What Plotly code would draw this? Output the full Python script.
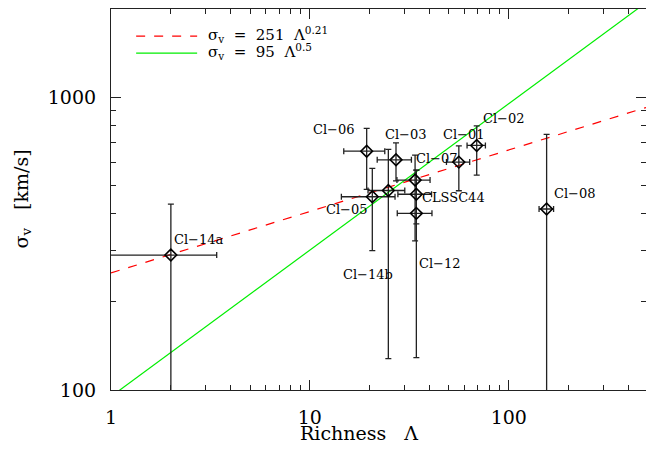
import math
import plotly.graph_objects as go

# ---- data ----
names = ["Cl-14a", "Cl-06", "Cl-03", "Cl-14b", "Cl-05", "Cl-07", "CLSSC44", "Cl-12", "Cl-01", "Cl-02", "Cl-08"]
richness = [2.0, 19.3, 27.1, 24.8, 20.6, 33.8, 34.3, 34.3, 56.1, 69.0, 155.0]
richness_err = [1.4, 4.5, 5.3, 5.2, 6.2, 6.4, 6.6, 6.8, 7.5, 7.3, 13.0]
sigma = [289, 654, 611, 480, 457, 521, 466, 401, 600, 684, 415]
sigma_err_plus = [142, 128, 87, 183, 114, 113, 97, 162, 82, 114, 331]
sigma_err_minus = [239, 170, 93, 352, 158, 198, 97, 272, 121, 142, 331]

NB = "\u00a0"
fit_names = [f"σ<sub>v</sub>{NB}{NB}={NB}{NB}251{NB}{NB}Λ<sup>0.21</sup>",
             f"σ<sub>v</sub>{NB}{NB}={NB}{NB}95{NB}{NB}Λ<sup>0.5</sup>"]
fit_amp = [251, 95]
fit_exp = [0.21, 0.5]
fit_lambda = [1, 500]

x_ticks = [1, 10, 100]
y_ticks = [100, 1000]
x_minor = [2, 3, 4, 5, 6, 7, 8, 9, 20, 30, 40, 50, 60, 70, 80, 90, 200, 300, 400]
y_minor = [200, 300, 400, 500, 600, 700, 800, 900, 2000]

# ---- style ----
FONT = "DejaVu Serif"
fit_colors = ["#ff0000", "#00ee00"]
fit_dash = ["dash", "solid"]
# label offsets (px) relative to each point: (dx, dy up)
label_offsets = [(28, 16), (-33, 22), (10, 25), (-20, -84), (-25, -13), (22, 22),
                 (37, -3), (24, -50), (5, 28), (27, 27), (28, 16)]

fig = go.Figure()

for i in range(2):
    fig.add_trace(go.Scatter(
        x=fit_lambda, y=[fit_amp[i] * l ** fit_exp[i] for l in fit_lambda],
        mode="lines", line=dict(color=fit_colors[i], width=1.2, dash=fit_dash[i]),
        showlegend=False, hoverinfo="skip"))

fig.add_trace(go.Scatter(
    x=richness, y=sigma, mode="markers",
    marker=dict(symbol="diamond-open", size=9, color="black", line=dict(width=1.6, color="black")),
    error_x=dict(type="data", array=richness_err, color="#222", thickness=1.3, width=3),
    error_y=dict(type="data", symmetric=False, array=sigma_err_plus, arrayminus=sigma_err_minus,
                 color="#222", thickness=1.3, width=3),
    showlegend=False))

annotations = []
for n, xv, yv, (dx, dy) in zip(names, richness, sigma, label_offsets):
    annotations.append(dict(x=math.log10(xv), y=math.log10(yv),
                            xref="x", yref="y", text=n.replace("-", "−"), showarrow=False,
                            xshift=dx, yshift=dy, font=dict(family=FONT, size=13, color="black")))

# legend (manual)
leg_y = [0.929, 0.884]
shapes = []
for i in range(2):
    shapes.append(dict(type="line", xref="paper", yref="paper", x0=0.047, x1=0.161,
                       y0=leg_y[i], y1=leg_y[i],
                       line=dict(color=fit_colors[i], width=1.2, dash=fit_dash[i])))
    annotations.append(dict(xref="paper", yref="paper", x=0.178, y=leg_y[i], xanchor="left",
                            yanchor="middle", yshift=2, text=fit_names[i], showarrow=False,
                            font=dict(family=FONT, size=15, color="black")))

# axis titles
annotations.append(dict(xref="paper", yref="paper", x=0.5, y=0, xshift=-20, yshift=-43,
                        yanchor="middle", text="Richness   Λ", showarrow=False,
                        font=dict(family=FONT, size=19, color="black")))
annotations.append(dict(xref="paper", yref="paper", x=0, y=0.5, xshift=-89, textangle=-90,
                        xanchor="center", text="σ<sub>v</sub>   [km/s]", showarrow=False,
                        font=dict(family=FONT, size=19, color="black")))

axis_common = dict(type="log", showgrid=False, zeroline=False, showline=True, linecolor="#222",
                   linewidth=1.2, mirror="ticks", ticks="inside", ticklen=10, tickwidth=1.2,
                   tickcolor="#222", tickfont=dict(family=FONT, size=19, color="black"))

fig.update_layout(
    width=646, height=452,
    margin=dict(l=111, r=0, t=9, b=62),
    paper_bgcolor="white", plot_bgcolor="white",
    xaxis=dict(range=[0, 2.690], tickvals=x_ticks, ticktext=[str(v) for v in x_ticks],
               minor=dict(tickvals=x_minor, ticks="inside", ticklen=5, tickwidth=1.2, tickcolor="#222"),
               ticklabelstandoff=10, **axis_common),
    yaxis=dict(range=[2, 3.30103], tickvals=y_ticks, ticktext=[str(v) for v in y_ticks],
               minor=dict(tickvals=y_minor, ticks="inside", ticklen=5, tickwidth=1.2, tickcolor="#222"),
               ticklabelstandoff=10, **axis_common),
    shapes=shapes, annotations=annotations,
)

# remove the page's default body margin so the 646x452 figure fills the window exactly
fig.write_html("out.html", config={"displayModeBar": False},
               post_script="document.body.style.margin='0';document.body.style.overflow='hidden';")
